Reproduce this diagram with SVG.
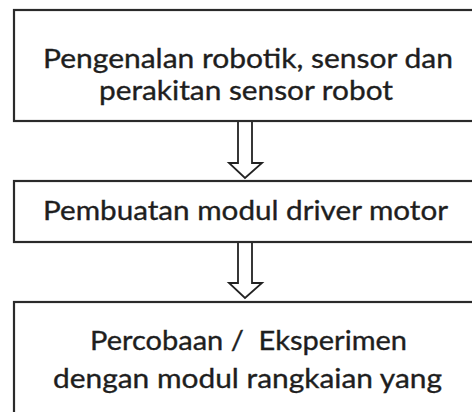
<svg xmlns="http://www.w3.org/2000/svg" width="472" height="412" viewBox="0 0 472 412">
<style>
.box{fill:#fff;stroke:#2a2a2a;stroke-width:2.2}
.t{font-family:Lato,"Open Sans","Liberation Sans",sans-serif;font-size:27.5px;fill:#1e1e1e;stroke:#1e1e1e;stroke-width:0.35}
.arr{fill:#fff;stroke:#222;stroke-width:1.8;stroke-linejoin:miter}
</style>
<rect width="472" height="412" fill="#fff"/>
<g id="connectors">
<polygon class="arr" points="238,121 238,163 229,163 245,178 262,163 252,163 252,121"/>
<polygon class="arr" points="238,242 238,283 229,283 245,298 262,283 252,283 252,242"/>
</g>
<g id="node1">
<rect class="box" x="14" y="10" width="480" height="111"/>
<text class="t" x="43" y="68" textLength="410" lengthAdjust="spacingAndGlyphs">Pengenalan robotik, sensor dan</text>
<text class="t" x="99" y="100" textLength="294" lengthAdjust="spacingAndGlyphs">perakitan sensor robot</text>
</g>
<g id="node2">
<rect class="box" x="14" y="181" width="480" height="61"/>
<text class="t" x="43" y="220" textLength="405" lengthAdjust="spacingAndGlyphs">Pembuatan modul driver motor</text>
</g>
<g id="node3">
<rect class="box" x="14" y="302" width="480" height="130"/>
<text class="t" x="90" y="350" textLength="317" lengthAdjust="spacingAndGlyphs" xml:space="preserve">Percobaan /  Eksperimen</text>
<text class="t" x="53" y="388" textLength="389" lengthAdjust="spacingAndGlyphs">dengan modul rangkaian yang</text>
</g>
</svg>
